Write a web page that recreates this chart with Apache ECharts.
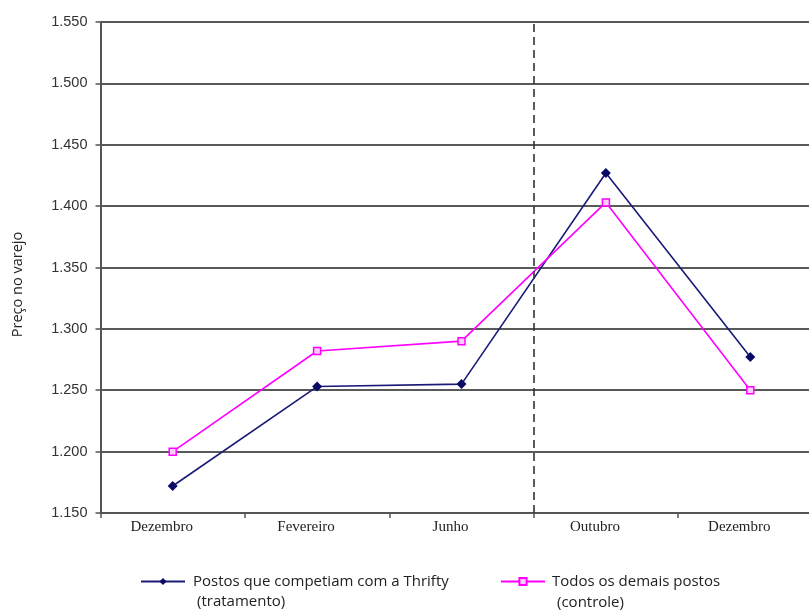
<!DOCTYPE html>
<html>
<head>
<meta charset="utf-8">
<script src="https://cdn.jsdelivr.net/npm/echarts@6/dist/echarts.min.js"></script>
<style>
  html, body { margin: 0; padding: 0; background: #fff; }
  #chart { width: 809px; height: 610px; }
</style>
</head>
<body>
<div id="chart"></div>
<script>
// Retail price by period, stations competing with Thrifty vs. all others
const categories = ['Dezembro', 'Fevereiro', 'Junho', 'Outubro', 'Dezembro'];
const tratamento = [1.172, 1.253, 1.255, 1.427, 1.277];
const controle = [1.200, 1.282, 1.290, 1.403, 1.250];
const yTicks = { min: 1.15, max: 1.55, step: 0.05 };
const eventPosition = 3; // boundary between Junho and Outubro

const chart = echarts.init(document.getElementById('chart'));

chart.setOption({
  animation: false,
  backgroundColor: '#ffffff',
  grid: {
    left: 100.5, top: 22, width: 722, height: 491,
    containLabel: false,
    outerBoundsMode: 'none'
  },
  xAxis: [
    {
      type: 'category',
      data: categories,
      boundaryGap: true,
      axisLine: { show: true, lineStyle: { color: '#555', width: 2 } },
      axisTick: { show: true, length: 5, lineStyle: { color: '#555', width: 1.5 } },
      axisLabel: {
        margin: 7,
        fontFamily: 'Liberation Serif',
        fontSize: 15,
        color: '#222',
        padding: [0, 22, 0, 0]
      },
      splitLine: { show: false }
    },
    {
      type: 'value',
      min: 0,
      max: 5,
      show: false,
      position: 'bottom'
    }
  ],
  yAxis: {
    type: 'value',
    min: yTicks.min,
    max: yTicks.max,
    interval: yTicks.step,
    name: 'Preço no varejo',
    nameLocation: 'middle',
    nameRotate: 90,
    nameGap: 75,
    nameTextStyle: { fontFamily: 'Open Sans', fontSize: 14.5, color: '#222', padding: [0, 34, 0, 0], align: 'center' },
    axisLine: { show: true, lineStyle: { color: '#555', width: 2 } },
    axisTick: { show: true, length: 5, lineStyle: { color: '#555', width: 1.5 } },
    axisLabel: {
      margin: 13,
      fontFamily: 'Liberation Sans',
      fontSize: 14.5,
      color: '#333',
      formatter: v => v.toFixed(3)
    },
    splitLine: { show: true, lineStyle: { color: '#222', width: 1.5 } }
  },
  legend: [
    {
      data: ['Postos que competiam com a Thrifty'],
      left: 135,
      top: 569,
      itemWidth: 44,
      itemHeight: 9,
      textStyle: { fontFamily: 'Open Sans', fontSize: 15, color: '#222', padding: [0, 0, 0, 3] }
    },
    {
      data: ['Todos os demais postos'],
      left: 495,
      top: 569,
      itemWidth: 44,
      itemHeight: 9,
      textStyle: { fontFamily: 'Open Sans', fontSize: 15, color: '#222', padding: [0, 0, 0, 2] }
    }
  ],
  graphic: [
    { type: 'text', left: 197, top: 594, style: { text: '(tratamento)', font: '15px "Open Sans"', fill: '#222' } },
    { type: 'text', left: 557, top: 595, style: { text: '(controle)', font: '15px "Open Sans"', fill: '#222' } }
  ],
  series: [
    {
      name: 'Postos que competiam com a Thrifty',
      type: 'line',
      data: tratamento,
      symbol: 'diamond',
      symbolSize: 10,
      lineStyle: { color: '#1a1a78', width: 1.6 },
      itemStyle: { color: '#0a0a66' },
      z: 3
    },
    {
      name: 'Todos os demais postos',
      type: 'line',
      data: controle,
      symbol: 'rect',
      symbolSize: 7,
      lineStyle: { color: '#ff00ff', width: 1.6 },
      itemStyle: { color: '#ffccff', borderColor: '#ff00ff', borderWidth: 1.5 },
      z: 4
    },
    {
      name: 'evento',
      type: 'line',
      xAxisIndex: 1,
      data: [],
      symbol: 'none',
      silent: true,
      markLine: {
        silent: true,
        symbol: 'none',
        label: { show: false },
        lineStyle: { color: '#333', type: [8, 5], width: 1.6 },
        data: [{ xAxis: eventPosition }]
      }
    }
  ]
});
</script>
</body>
</html>
